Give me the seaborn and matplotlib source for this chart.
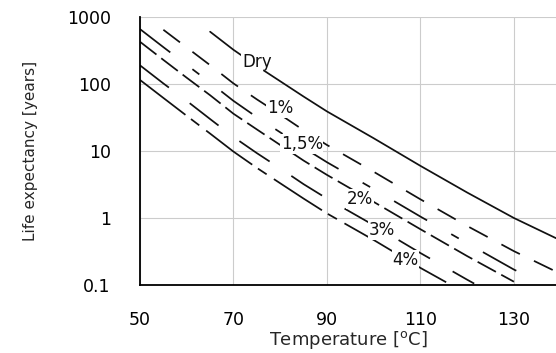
import pandas as pd
import numpy as np
import matplotlib
matplotlib.use('Agg')
import matplotlib.pyplot as plt
import seaborn as sns

# values
temp_dry = [65, 70, 75, 80, 85, 90, 100, 110, 120, 130, 139]
life_dry = [603, 324, 186, 110, 65, 39, 15.5, 6.0, 2.4, 1.0, 0.5]

temp_1 = [55, 60, 65, 70, 75, 80, 85, 90, 100, 110, 120, 130, 138.5]
life_1 = [645, 351, 191, 102, 59, 35, 20.4, 12.3, 4.9, 1.9, 0.76, 0.32, 0.165]

temp_15 = [50, 55, 60, 65, 70, 75, 80, 85, 90, 100, 110, 120, 130, 133]
life_15 = [660, 355, 193, 105, 56, 32, 19, 11.2, 6.8, 2.7, 1.05, 0.42, 0.17, 0.135]

temp_2 = [50, 55, 60, 65, 70, 75, 80, 85, 90, 100, 110, 120, 130]
life_2 = [427, 229, 124, 68, 36, 21, 12.3, 7.2, 4.4, 1.74, 0.68, 0.27, 0.112]

temp_3 = [50, 55, 60, 65, 70, 75, 80, 85, 90, 100, 110, 120, 121.5]
life_3 = [190, 102, 56, 30, 16.2, 9.3, 5.5, 3.2, 1.95, 0.78, 0.30, 0.12, 0.105]

temp_4 = [50, 55, 60, 65, 70, 75, 80, 85, 90, 100, 110, 115.5]
life_4 = [115, 62, 33.5, 18.2, 9.8, 5.6, 3.3, 1.95, 1.17, 0.47, 0.18, 0.11]

series_names = ['Dry', '1%', '1,5%', '2%', '3%', '4%']
# where each curve label sits (data coords)
label_temp = [75.0, 80.0, 84.6, 97.1, 101.8, 106.8]
label_life = [215, 43.4, 12.7, 1.92, 0.66, 0.24]

x_ticks = [50, 70, 90, 110, 130]
y_ticks = [0.1, 1, 10, 100, 1000]
y_ticklabels = ['0.1', '1', '10', '100', '1000']

temps = [temp_dry, temp_1, temp_15, temp_2, temp_3, temp_4]
lifes = [life_dry, life_1, life_15, life_2, life_3, life_4]
df = pd.concat([pd.DataFrame({'Temperature': t, 'Life': l, 'Series': n})
                for t, l, n in zip(temps, lifes, series_names)], ignore_index=True)

sns.set_style('white')
plt.rcParams['font.family'] = ['DejaVu Sans']

fig = plt.figure(figsize=(5.56, 3.53), dpi=100)
ax = fig.add_axes([0.2518, 0.1926, 0.7482, 0.7592])

dash_styles = {'Dry': '', '1%': (12, 9), '1,5%': (22, 16, 5, 16),
               '2%': (12, 3.5), '3%': (21, 15), '4%': (33, 4, 6, 5)}
sns.lineplot(data=df, x='Temperature', y='Life', style='Series', dashes=dash_styles,
             color='#111111', lw=1.25, estimator=None, sort=False, legend=False, ax=ax)

ax.set_yscale('log')
ax.set_xlim(50, 139)
ax.set_ylim(0.1, 1000)
ax.set_xticks(x_ticks)
ax.set_xticks([60, 80, 100, 120], minor=True)
ax.set_yticks(y_ticks)
ax.set_yticklabels(y_ticklabels)

ax.grid(True, which='major', color='#cccccc', lw=0.8)
ax.set_axisbelow(True)
for s in ['top', 'right']:
    ax.spines[s].set_visible(False)
for s in ['left', 'bottom']:
    ax.spines[s].set_color('black')
    ax.spines[s].set_linewidth(1.3)

ax.tick_params(axis='both', which='major', labelsize=12.5, colors='black')
ax.tick_params(axis='x', which='major', direction='inout', length=8, width=1.2, pad=15)
ax.tick_params(axis='x', which='minor', direction='out', length=3.5, width=1.0)
ax.tick_params(axis='y', which='major', direction='out', length=6, width=1.2, pad=15)
ax.tick_params(axis='y', which='minor', direction='out', length=3.5, width=0.9)

for name, tx, ly in zip(series_names, label_temp, label_life):
    ax.text(tx, ly, name, ha='center', va='center', fontsize=12, color='#111111',
            bbox=dict(fc='white', ec='none', pad=0.5))

ax.set_xlabel(r'Temperature [$^{\rm o}$C]', fontsize=13, labelpad=0)
ax.set_ylabel('Life expectancy [years]', fontsize=11)
ax.yaxis.set_label_coords(-0.245, 0.5)

fig.savefig('out.png', dpi=100)
